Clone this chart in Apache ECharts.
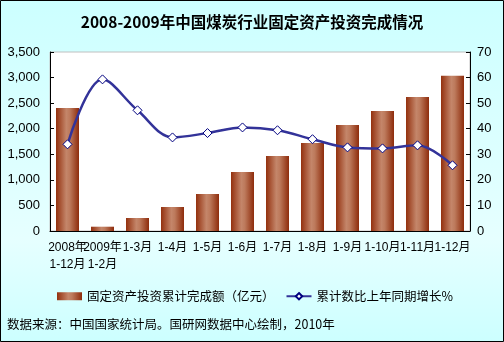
<!DOCTYPE html>
<html><head><meta charset="utf-8">
<script src="https://cdn.jsdelivr.net/npm/echarts@6/dist/echarts.min.js"></script>
<style>html,body{margin:0;padding:0;}#c{width:504px;height:342px;}</style>
</head><body><div id="c"></div>
<script>
const categories = ['2008年\n1-12月','2009年\n1-2月','1-3月','1-4月','1-5月','1-6月','1-7月','1-8月','1-9月','1-10月','1-11月','1-12月'];
const investment = [2405, 84, 254, 469, 723, 1154, 1466, 1721, 2073, 2346, 2620, 3037];
const growth = [33.9, 59.3, 47.2, 36.6, 38.3, 40.5, 39.4, 35.9, 32.7, 32.3, 33.5, 25.7];
const leftTicks = [0, 3500, 500];
const rightTicks = [0, 70, 10];
const seriesNames = ['固定资产投资累计完成额（亿元）','累计数比上年同期增长%'];
const titleText = '2008-2009年中国煤炭行业固定资产投资完成情况';
const sourceText = '数据来源：中国国家统计局。国研网数据中心绘制，2010年';

const FF = '"Liberation Sans", Arial, "Noto Sans CJK SC", sans-serif';
const chart = echarts.init(document.getElementById('c'));
const barGrad = new echarts.graphic.LinearGradient(0,0,1,0,[
  {offset:0,color:'#93300e'},{offset:0.45,color:'#c4866a'},{offset:0.6,color:'#bd7a5c'},{offset:1,color:'#8e2c0c'}]);
chart.setOption({
  animation:false,
  backgroundColor: new echarts.graphic.LinearGradient(0,0,0,1,[
    {offset:0,color:'#ccffff'},{offset:0.7,color:'#e6ffff'},{offset:1,color:'#ccffff'}]),
  title:{text:titleText,left:'center',top:9,textStyle:{fontSize:15.5,fontWeight:'bold',color:'#000',fontFamily:'"Noto Sans CJK SC", sans-serif'}},
  grid:{left:50,right:34,top:52,bottom:111,show:true,backgroundColor:'#fff',borderColor:'#c0c0c0',borderWidth:1},
  legend:{left:52,top:285,itemWidth:25,itemHeight:8,itemGap:11,
    textStyle:{fontSize:12.5,color:'#000',fontFamily:'"Noto Sans CJK SC", sans-serif'},
    data:[{name:seriesNames[0],icon:'rect'},{name:seriesNames[1]}]},
  xAxis:{type:'category',data:categories,
    axisLine:{lineStyle:{color:'#000',width:1}},
    axisTick:{inside:true,length:4,lineStyle:{color:'#000'}},
    axisLabel:{interval:0,color:'#000',fontSize:12,fontFamily:FF,margin:8,lineHeight:17}},
  yAxis:[
    {type:'value',min:leftTicks[0],max:leftTicks[1],interval:leftTicks[2],
     axisLine:{show:true,lineStyle:{color:'#000'}},axisTick:{show:true,inside:true,length:4,lineStyle:{color:'#000'}},
     splitLine:{show:false},
     axisLabel:{color:'#000',fontSize:13,fontFamily:FF,margin:10,formatter:v=>v.toLocaleString('en-US')}},
    {type:'value',min:rightTicks[0],max:rightTicks[1],interval:rightTicks[2],position:'right',
     axisLine:{show:true,lineStyle:{color:'#000'}},axisTick:{show:true,inside:true,length:4,lineStyle:{color:'#000'}},
     splitLine:{show:false},
     axisLabel:{color:'#000',fontSize:13,fontFamily:FF,margin:7}}
  ],
  series:[
    {name:seriesNames[0],type:'bar',data:investment,barWidth:23,itemStyle:{color:barGrad}},
    {name:seriesNames[1],type:'line',yAxisIndex:1,data:growth,smooth:0.35,
     symbol:'diamond',symbolSize:9,showAllSymbol:true,
     lineStyle:{color:'#333399',width:2.5},
     itemStyle:{color:'#fff',borderColor:'#000080',borderWidth:1}}
  ],
  graphic:[
    {type:'text',left:7,top:318,style:{text:sourceText,fontSize:12.5,fill:'#000',fontFamily:'"Noto Sans CJK SC", sans-serif'}},
    {type:'rect',shape:{x:0.5,y:0.5,width:503,height:341},style:{fill:null,stroke:'#000',lineWidth:1},silent:true,z:100}
  ]
});
</script></body></html>
